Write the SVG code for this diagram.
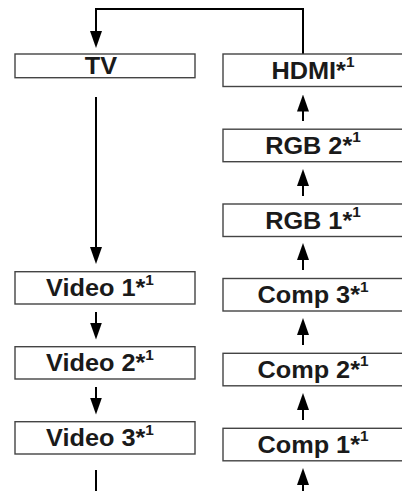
<svg xmlns="http://www.w3.org/2000/svg" width="402" height="491" viewBox="0 0 402 491">
<style>
.box{fill:#fff;stroke:#444;stroke-width:1.4}
.lbl{font-family:"Liberation Sans",Arial,sans-serif;font-weight:bold;font-size:23px;fill:#1a1a1a;text-anchor:middle}
.sup{font-size:14px}
.ln{fill:none;stroke:#000;stroke-width:2}
</style>
<defs>
<marker id="ah" viewBox="0 0 17 12" refX="7" refY="6" markerWidth="17" markerHeight="12" orient="auto" markerUnits="userSpaceOnUse">
<path d="M0,0 L17,6 L0,12 z" fill="#000"/>
</marker>
</defs>
<rect width="402" height="491" fill="#fff"/>
<g id="connectors">
<path class="ln" d="M303,54 V9 H96 V38" marker-end="url(#ah)"/>
<path class="ln" d="M96,97 V254" marker-end="url(#ah)"/>
<path class="ln" d="M96,312 V329.5" marker-end="url(#ah)"/>
<path class="ln" d="M96,387 V404.5" marker-end="url(#ah)"/>
<path class="ln" d="M96,470 V491"/>
<path class="ln" d="M303,491 V478" marker-end="url(#ah)"/>
<path class="ln" d="M303,420 V403" marker-end="url(#ah)"/>
<path class="ln" d="M303,345 V328" marker-end="url(#ah)"/>
<path class="ln" d="M303,270 V253" marker-end="url(#ah)"/>
<path class="ln" d="M303,196 V179" marker-end="url(#ah)"/>
<path class="ln" d="M303,121 V104.5" marker-end="url(#ah)"/>
</g>
<g id="tv"><rect class="box" x="15" y="54" width="180" height="23.7"/><text class="lbl" transform="translate(101,74) scale(1.1,1)">TV</text></g>
<g id="video1"><rect class="box" x="15" y="271.7" width="180" height="32.3"/><text class="lbl" transform="translate(100,296.2) scale(1.1,1)">Video 1*<tspan class="sup" dy="-11.5">1</tspan></text></g>
<g id="video2"><rect class="box" x="15" y="346.7" width="180" height="32.3"/><text class="lbl" transform="translate(100,371.2) scale(1.1,1)">Video 2*<tspan class="sup" dy="-11.5">1</tspan></text></g>
<g id="video3"><rect class="box" x="15" y="421.7" width="180" height="32.3"/><text class="lbl" transform="translate(100,446.2) scale(1.1,1)">Video 3*<tspan class="sup" dy="-11.5">1</tspan></text></g>
<g id="hdmi"><rect class="box" x="223" y="54" width="190" height="32.5"/><text class="lbl" transform="translate(313,78.5) scale(1.1,1)">HDMI*<tspan class="sup" dy="-11.5">1</tspan></text></g>
<g id="rgb2"><rect class="box" x="223" y="129.2" width="190" height="32.5"/><text class="lbl" transform="translate(313,153.7) scale(1.1,1)">RGB 2*<tspan class="sup" dy="-11.5">1</tspan></text></g>
<g id="rgb1"><rect class="box" x="223" y="204" width="190" height="32.5"/><text class="lbl" transform="translate(313,228.5) scale(1.1,1)">RGB 1*<tspan class="sup" dy="-11.5">1</tspan></text></g>
<g id="comp3"><rect class="box" x="223" y="278.5" width="190" height="32.5"/><text class="lbl" transform="translate(313,303) scale(1.1,1)">Comp 3*<tspan class="sup" dy="-11.5">1</tspan></text></g>
<g id="comp2"><rect class="box" x="223" y="353.3" width="190" height="32.5"/><text class="lbl" transform="translate(313,377.8) scale(1.1,1)">Comp 2*<tspan class="sup" dy="-11.5">1</tspan></text></g>
<g id="comp1"><rect class="box" x="223" y="428.3" width="190" height="32.5"/><text class="lbl" transform="translate(313,452.8) scale(1.1,1)">Comp 1*<tspan class="sup" dy="-11.5">1</tspan></text></g>
</svg>
